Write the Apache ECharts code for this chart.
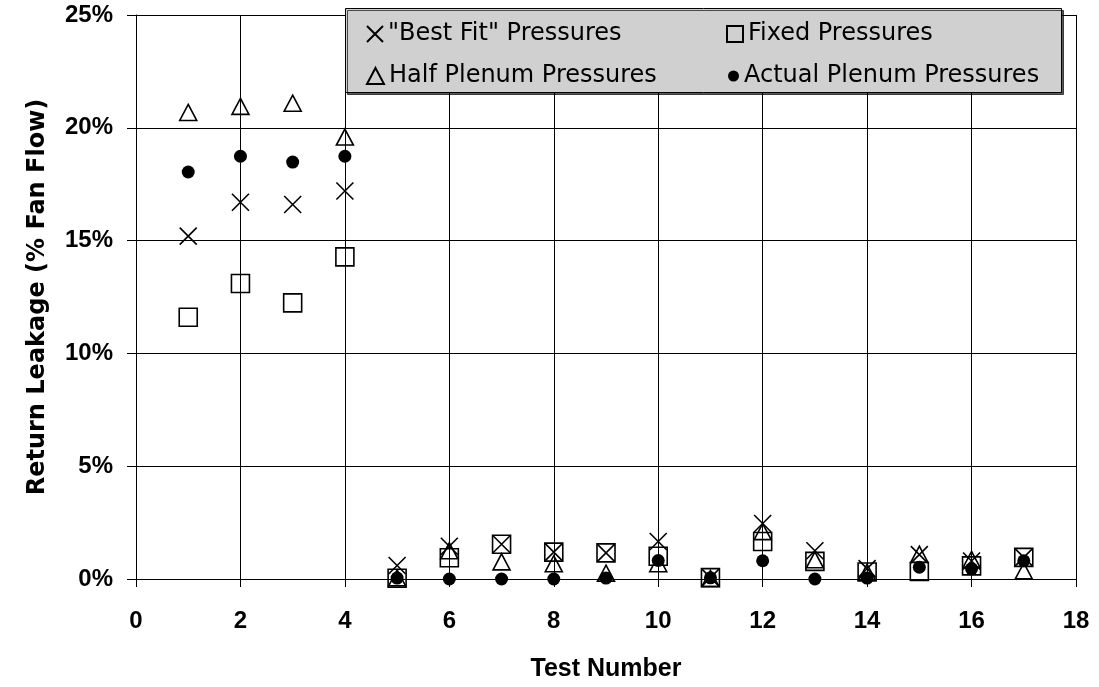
<!DOCTYPE html>
<html><head><meta charset="utf-8">
<script src="https://cdn.jsdelivr.net/npm/echarts@6/dist/echarts.min.js"></script>
<style>html,body{margin:0;padding:0;background:#fff}#c{width:1099px;height:687px}</style>
</head><body><div id="c"></div>
<script>
const testNumbers = [1, 2, 3, 4, 5, 6, 7, 8, 9, 10, 11, 12, 13, 14, 15, 16, 17];
const bestFit      = [15.2, 16.7, 16.6, 17.2, 0.6, 1.45, 1.54, 1.19, 1.16, 1.66, 0.06, 2.46, 1.25, 0.46, 1.08, 0.8, 0.96];
const fixedP       = [11.6, 13.1, 12.24, 14.28, 0.03, 0.94, 1.54, 1.19, 1.16, 1.01, 0.06, 1.66, 0.78, 0.31, 0.33, 0.58, 0.96];
const halfPlenum   = [20.68, 20.95, 21.09, 19.59, 0.05, 1.25, 0.76, 0.68, 0.26, 0.68, 0.02, 2.1, 0.85, 0.3, 1.1, 0.87, 0.36];
const actualPlenum = [18.04, 18.74, 18.48, 18.74, 0.04, 0.0, 0.0, 0.0, 0.04, 0.82, 0.05, 0.81, 0.0, 0.04, 0.52, 0.45, 0.81];
const seriesNames = ['"Best Fit" Pressures', 'Fixed Pressures', 'Half Plenum Pressures', 'Actual Plenum Pressures'];
const xTicks = { min: 0, max: 18, interval: 2 };
const yTicks = { min: 0, max: 25, interval: 5 };

const pairs = arr => testNumbers.map((x, i) => [x, arr[i]]);
const chart = echarts.init(document.getElementById('c'), null, { renderer: 'canvas' });
const tickFont = { fontFamily: 'Liberation Sans, Arial, sans-serif', fontWeight: 'bold', fontSize: 24, color: '#000' };
const hollow = { color: 'rgba(0,0,0,0)', borderColor: '#000', borderWidth: 1.6, opacity: 1 };
const legendText = { fontFamily: 'DejaVu Sans, sans-serif', fontSize: 24, color: '#000', lineHeight: 26 };
function leg(name, left, top, w, h) {
  return { data: [name], left: left, top: top, orient: 'horizontal', padding: 0, itemGap: 0,
    itemWidth: w, itemHeight: h, selectedMode: false, textStyle: legendText, z: 5 };
}
chart.setOption({
  animation: false,
  backgroundColor: '#fff',
  grid: { left: 136, right: 23, top: 15, bottom: 106, containLabel: false },
  xAxis: {
    type: 'value', min: xTicks.min, max: xTicks.max, interval: xTicks.interval,
    axisLine: { show: true, onZero: false, lineStyle: { color: '#000', width: 1 } },
    axisTick: { show: true, length: 8, lineStyle: { color: '#000' } },
    axisLabel: Object.assign({ margin: 30 }, tickFont),
    splitLine: { show: true, lineStyle: { color: '#000', width: 1 } },
    name: 'Test Number', nameLocation: 'middle', nameGap: 78,
    nameTextStyle: { fontFamily: 'Liberation Sans, Arial, sans-serif', fontWeight: 'bold', fontSize: 25, color: '#000' }
  },
  yAxis: {
    type: 'value', min: yTicks.min, max: yTicks.max, interval: yTicks.interval,
    axisLine: { show: true, onZero: false, lineStyle: { color: '#000', width: 1 } },
    axisTick: { show: true, length: 9, lineStyle: { color: '#000' } },
    axisLabel: Object.assign({ margin: 23, formatter: '{value}%' }, tickFont),
    splitLine: { show: true, lineStyle: { color: '#000', width: 1 } },
    name: 'Return Leakage (% Fan Flow)', nameLocation: 'middle', nameGap: 86,
    nameTextStyle: { fontFamily: 'DejaVu Sans, sans-serif', fontWeight: 'bold', fontSize: 24, color: '#000' }
  },
  legend: [
    leg(seriesNames[0], 366, 21, 16, 16),
    leg(seriesNames[1], 726, 21, 16, 16),
    leg(seriesNames[2], 366, 63, 17, 16),
    leg(seriesNames[3], 728, 63, 11, 11)
  ],
  graphic: [{
    type: 'rect', z: 3, silent: true,
    shape: { x: 345.5, y: 8.5, width: 716, height: 84 },
    style: { fill: '#d0d0d0', stroke: '#000', lineWidth: 1, shadowColor: 'rgba(0,0,0,0.65)', shadowOffsetX: 2, shadowOffsetY: 2, shadowBlur: 0 }
  }],
  series: [
    { name: seriesNames[0], type: 'scatter', data: pairs(bestFit), symbol: 'path://M0,0L10,10M10,0L0,10', symbolSize: 17,
      itemStyle: hollow, emphasis: { disabled: true }, z: 2 },
    { name: seriesNames[1], type: 'scatter', data: pairs(fixedP), symbol: 'rect', symbolSize: 18,
      itemStyle: hollow, emphasis: { disabled: true }, z: 2 },
    { name: seriesNames[2], type: 'scatter', data: pairs(halfPlenum), symbol: 'triangle', symbolSize: [17, 16],
      itemStyle: hollow, emphasis: { disabled: true }, z: 2 },
    { name: seriesNames[3], type: 'scatter', data: pairs(actualPlenum), symbol: 'circle', symbolSize: 13,
      itemStyle: { color: '#000', opacity: 1 }, emphasis: { disabled: true }, z: 2 }
  ]
});
</script></body></html>
